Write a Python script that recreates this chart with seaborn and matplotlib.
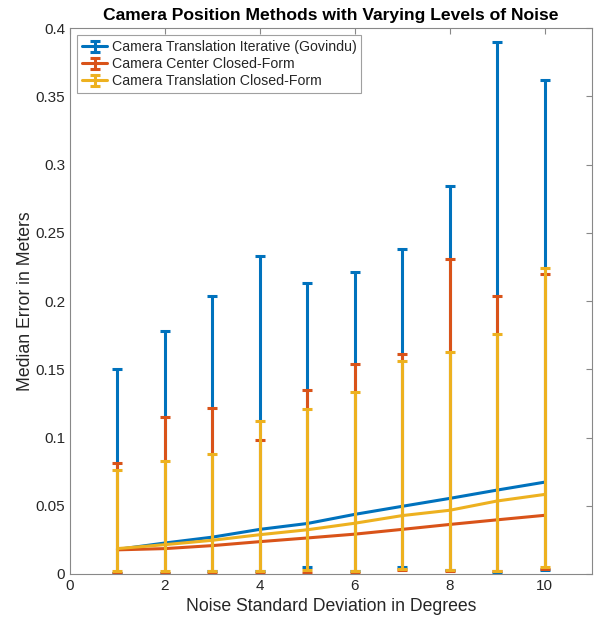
import numpy as np
import pandas as pd
import matplotlib
matplotlib.use("Agg")
import matplotlib.pyplot as plt
import seaborn as sns
from matplotlib.container import ErrorbarContainer
from matplotlib.legend_handler import HandlerErrorbar

# noise levels (degrees)
noise = [1, 2, 3, 4, 5, 6, 7, 8, 9, 10]

# median errors (meters)
govindu_med = [0.0180, 0.0227, 0.0270, 0.0327, 0.0370, 0.0437, 0.0496, 0.0554, 0.0615, 0.0673]
center_med = [0.0177, 0.0186, 0.0208, 0.0237, 0.0264, 0.0292, 0.0327, 0.0363, 0.0397, 0.0430]
trans_med = [0.0186, 0.0215, 0.0247, 0.0288, 0.0324, 0.0372, 0.0428, 0.0467, 0.0535, 0.0583]

# error bar ends (absolute values)
govindu_lo = [0.001, 0.001, 0.002, 0.002, 0.005, 0.002, 0.005, 0.003, 0.001, 0.003]
govindu_hi = [0.150, 0.178, 0.204, 0.233, 0.213, 0.221, 0.238, 0.284, 0.390, 0.362]
center_lo = [0.001, 0.001, 0.001, 0.001, 0.001, 0.001, 0.003, 0.002, 0.002, 0.004]
center_hi = [0.081, 0.115, 0.122, 0.098, 0.135, 0.154, 0.161, 0.231, 0.204, 0.220]
trans_lo = [0.002, 0.002, 0.002, 0.002, 0.003, 0.002, 0.004, 0.003, 0.002, 0.005]
trans_hi = [0.076, 0.083, 0.088, 0.112, 0.121, 0.133, 0.156, 0.163, 0.176, 0.224]

labels = ["Camera Translation Iterative (Govindu)",
          "Camera Center Closed-Form",
          "Camera Translation Closed-Form"]
colors = ["#0072BD", "#D95319", "#EDB120"]

xticks = [0, 2, 4, 6, 8, 10]
yticks = [0, 0.05, 0.1, 0.15, 0.2, 0.25, 0.3, 0.35, 0.4]
ytick_labels = ["0", "0.05", "0.1", "0.15", "0.2", "0.25", "0.3", "0.35", "0.4"]

sns.set_theme(style="white")
plt.rcParams["font.family"] = ["Liberation Sans", "DejaVu Sans"]
plt.rcParams["xtick.direction"] = "in"
plt.rcParams["ytick.direction"] = "in"

fig = plt.figure(figsize=(6.03, 6.21), dpi=100)
ax = fig.add_axes([0.116, 0.0757, 0.866, 0.879])

series = [
    (govindu_med, govindu_lo, govindu_hi),
    (center_med, center_lo, center_hi),
    (trans_med, trans_lo, trans_hi),
]

handles = []
for (med, lo, hi), lab, col in zip(series, labels, colors):
    df = pd.DataFrame({"noise": noise, "err": med})
    sns.lineplot(data=df, x="noise", y="err", color=col, linewidth=2.2, ax=ax, legend=False)
    line = ax.get_lines()[-1]
    med_a = np.array(med)
    yerr = [med_a - np.array(lo), np.array(hi) - med_a]
    eb = ax.errorbar(noise, med, yerr=yerr, fmt="none", ecolor=col, elinewidth=2.2,
                     capsize=3.5, capthick=2.2)
    handles.append((line, eb))

ax.set_xlim(0, 11)
ax.set_ylim(0, 0.4)
ax.set_xticks(xticks)
ax.set_yticks(yticks)
ax.set_yticklabels(ytick_labels)
ax.tick_params(axis="both", labelsize=11, length=4, width=0.8,
               top=True, right=True, labelcolor="#262626", color="#888888")
for s in ax.spines.values():
    s.set_color("#888888")
    s.set_linewidth(0.8)

ax.set_xlabel("Noise Standard Deviation in Degrees", fontsize=12.7, color="#262626", labelpad=4)
ax.set_ylabel("Median Error in Meters", fontsize=12.7, color="#262626", labelpad=1)
ax.set_title("Camera Position Methods with Varying Levels of Noise", fontsize=12.6,
             fontweight="bold", color="black", pad=6)

leg = ax.legend(handles, labels, loc="upper left", fontsize=10.2, frameon=True,
                fancybox=False, edgecolor="#888888", handlelength=1.8,
                borderaxespad=0.5, handletextpad=0.3, labelspacing=0.22,
                borderpad=0.35,
                handler_map={ErrorbarContainer: HandlerErrorbar(xerr_size=0.4, yerr_size=0.4)})
leg.get_frame().set_linewidth(0.8)

fig.savefig("out.png", dpi=100)
